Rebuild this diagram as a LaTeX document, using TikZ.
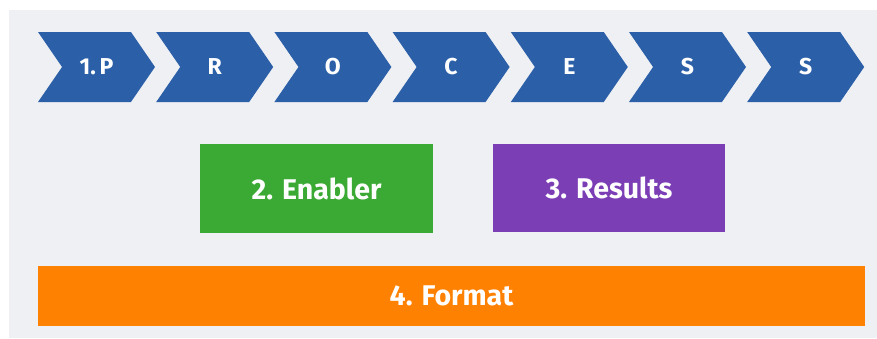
\documentclass[tikz,border=0pt]{standalone}
\usepackage{fontspec}
\setmainfont{Fira Sans}
\usetikzlibrary{shapes.symbols}

\definecolor{procblue}{HTML}{2B5FA8}
\definecolor{enablegreen}{HTML}{3BAA35}
\definecolor{resultpurple}{HTML}{7B3EB5}
\definecolor{formatorange}{HTML}{FF8102}
\definecolor{panelgray}{HTML}{EEF0F4}

\begin{document}
\begin{tikzpicture}[
        x=1pt, y=-1pt,
        chev/.style={signal, signal to=east, signal from=west, signal pointer angle=111,
            fill=procblue, text=white, minimum width=117pt, minimum height=70pt,
            inner sep=0pt, outer sep=0pt, font=\bfseries\fontsize{23}{23}\selectfont},
        block/.style={fill=#1, text=white, inner sep=0pt, outer sep=0pt,
            font=\bfseries\fontsize{28.5}{28.5}\selectfont},
    ]
        \useasboundingbox (0,0) rectangle (877,338);
        \fill[panelgray] (9,10) rectangle (877,338);

        % process chevrons
        \foreach \lab [count=\i from 0] in {1.\,P, R, O, C, E, S, S}
            \node[chev] (step-\i) at ({96.5+118.2*\i}, 67) {\lab};

        \node[block=enablegreen, minimum width=233pt, minimum height=89pt] (enabler) at (316.5, 188.5) {2. Enabler};
        \node[block=resultpurple, minimum width=232pt, minimum height=88pt] (results) at (609, 188) {3. Results};
        \node[block=formatorange, minimum width=827pt, minimum height=60pt] (format) at (451.5, 296) {4. Format};
    \end{tikzpicture}
\end{document}
